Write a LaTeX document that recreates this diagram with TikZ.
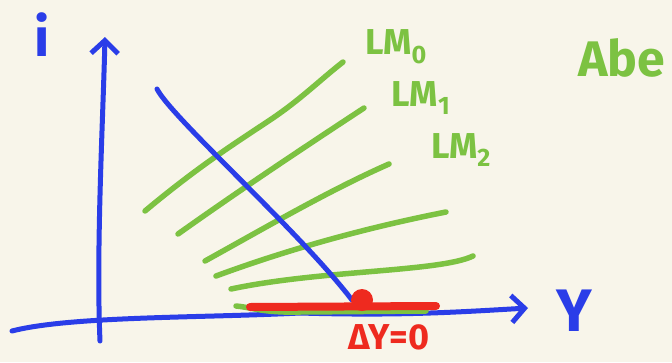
\documentclass[tikz,border=0pt]{standalone}
\usepackage{fontspec}
\setmainfont{Fira Sans}
\usetikzlibrary{arrows.meta}
\definecolor{bg}{HTML}{F8F5EA}
\definecolor{pblue}{HTML}{2A3DE8}
\definecolor{pgreen}{HTML}{7CC242}
\definecolor{pred}{HTML}{EE2A1F}
\begin{document}
\begin{tikzpicture}[x=1pt,y=-1pt,line cap=round,line join=round,
  axisline/.style={draw=pblue,line width=5pt,-{Straight Barb[length=13pt,width=27pt,line width=5pt]}},
  isline/.style={draw=pblue,line width=5pt},
  lmline/.style={draw=pgreen,line width=5.5pt},
  redline/.style={draw=pred,line width=8pt},
  bluetext/.style={text=pblue,inner sep=0pt},
  greentext/.style={text=pgreen,inner sep=0pt},
  redtext/.style={text=pred,inner sep=0pt}]
\fill[bg] (0,0) rectangle (672,362);
\useasboundingbox (0,0) rectangle (672,362);
\clip (0,0) rectangle (672,362);
% axes
\coordinate (yb) at (100,341);
\coordinate (yt) at (105,37);
\coordinate (xl) at (12,331);
\coordinate (xr) at (528,308);
\draw[axisline] (yb) .. controls (96,250) and (103,120) .. (yt);
\draw[axisline] (xl) .. controls (70,316) and (200,318) .. (300,313) .. controls (400,316) and (460,312) .. (xr);
% LM curves
\coordinate (g1a) at (145,211); \coordinate (g1b) at (343,62);
\coordinate (g2a) at (178,234); \coordinate (g2b) at (364,108);
\coordinate (g3a) at (205,261); \coordinate (g3b) at (389,164);
\coordinate (g4a) at (216,276); \coordinate (g4b) at (446,212);
\coordinate (g5a) at (231,289); \coordinate (g5b) at (473,256);
\coordinate (g6a) at (236,306); \coordinate (g6b) at (426,311);
\draw[lmline] (g1a) .. controls (200,165) and (240,140) .. (270,120) .. controls (300,100) and (320,80) .. (g1b);
\draw[lmline] (g2a) .. controls (240,190) and (300,150) .. (g2b);
\draw[lmline] (g3a) .. controls (270,225) and (330,190) .. (g3b);
\draw[lmline] (g4a) .. controls (300,245) and (380,225) .. (g4b);
\draw[lmline] (g5a) .. controls (320,270) and (440,272) .. (g5b);
\draw[lmline] (g6a) .. controls (250,307) and (262,313) .. (300,312) -- (g6b);
% IS curve
\coordinate (isa) at (157,89);
\coordinate (isb) at (352,300);
\draw[isline] (isa) .. controls (172,118) and (300,232) .. (isb);
% red
\coordinate (ra) at (250,307);
\coordinate (rb) at (436,306);
\draw[redline] (ra) -- (rb);
\fill[pred] (362,300) circle (11pt);
% labels
\node[bluetext,font=\bfseries\fontsize{54}{58}\selectfont] (ilab) at (42,35) {i};
\node[bluetext,font=\bfseries\fontsize{60}{64}\selectfont] (ylab) at (574,311) {Y};
\node[redtext,font=\bfseries\fontsize{36}{40}\selectfont] (dy) at (389,337) {ΔY=0};
\node[greentext,font=\bfseries\fontsize{36}{40}\selectfont] (lm0) at (396,47) {LM\textsubscript{0}};
\node[greentext,font=\bfseries\fontsize{36}{40}\selectfont] (lm1) at (421,98) {LM\textsubscript{1}};
\node[greentext,font=\bfseries\fontsize{36}{40}\selectfont] (lm2) at (461,150) {LM\textsubscript{2}};
\node[greentext,font=\bfseries\fontsize{50}{54}\selectfont,anchor=west] (abe) at (578,58) {Abe};
\end{tikzpicture}
\end{document}
